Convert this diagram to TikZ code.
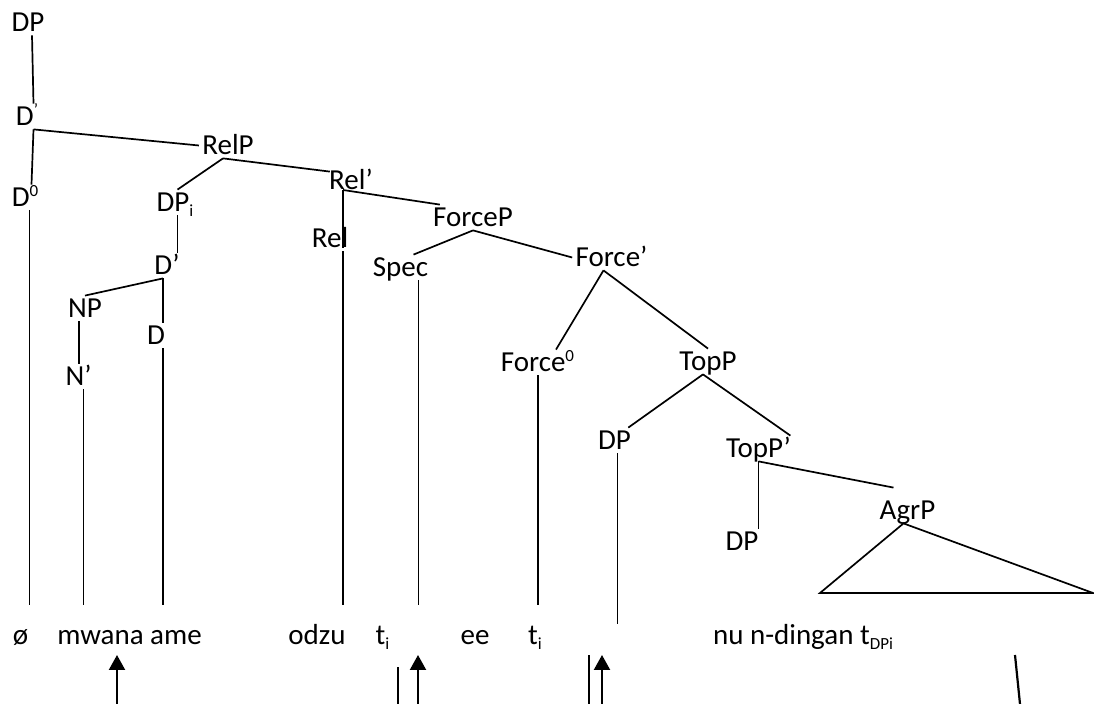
\documentclass[tikz,border=0pt]{standalone}
\usepackage{fontspec}
\setmainfont{Carlito}
\usetikzlibrary{arrows.meta}
\newcommand{\supsm}[1]{\textsuperscript{\fontsize{8.5}{9}\selectfont #1}}
\newcommand{\subsm}[1]{\textsubscript{\fontsize{8.5}{9}\selectfont #1}}

\begin{document}
\begin{tikzpicture}[x=0.5pt, y=-0.5pt, >={Triangle[width=8pt,length=7.5pt]},
  every node/.style={font=\fontsize{14.5}{17}\selectfont},
  cat/.style={anchor=base, inner sep=1.5pt, text height=9.5pt, text depth=0pt},
  word/.style={anchor=base, inner sep=0pt},
  br/.style={line width=0.85pt},
  mv/.style={line width=1.1pt}]
  \useasboundingbox (0,0) rectangle (1094,704);
  \coordinate (leaf) at (0,605);
  \coordinate (leafC) at (0,624);
  % DP shell and relative clause
  \node[cat] (dp) at (28,32) {DP};
  \node[cat] (dbarA) at (27.5,126) {D\supsm{’}};
  \node[cat] (dzero) at (25.5,207) {D\supsm{0}};
  \node[cat] (relp) at (228,155) {RelP};
  \node[cat] (dpi) at (175.5,212) {DP\subsm{i}};
  \node[cat] (relbar) at (351,190) {Rel’};
  \node[cat] (rel) at (330,248) {Rel};
  \draw[br] ([xshift=2pt]dp.south) -- ([xshift=3pt]dbarA.north);
  \draw[br] ([xshift=3pt]dbarA.south) -- (relp.west);
  \draw[br] ([xshift=3pt]dbarA.south) -- ([xshift=3pt]dzero.north);
  \draw[br] ([xshift=-2.5pt]relp.south) -- ([xshift=1pt]dpi.north);
  \draw[br] ([xshift=-2.5pt]relp.south) -- ([shift={(2pt,-2pt)}]relbar.north west);
  \draw[br] ([xshift=-4pt]relbar.base) -- ([xshift=-4pt]relbar.base |- rel.base);
  % relativised DP
  \node[cat] (dbarB) at (167,275) {D’};
  \node[cat] (np) at (85,318) {NP};
  \node[cat] (dhead) at (156,345) {D};
  \node[cat] (nbar) at (78.5,386) {N’};
  \draw[br] ([xshift=1pt]dpi.south) -- ([xshift=1pt]dpi.south |- dbarB.north);
  \draw[br] ([xshift=-2pt]dbarB.south) -- (np.north);
  \draw[br] ([xshift=-2pt]dbarB.south) -- ([xshift=-2pt]dbarB.south |- dhead.north);
  \draw[br] ([xshift=-3pt]np.south) -- ([xshift=-3pt]np.south |- nbar.north);
  % ForceP
  \node[cat] (forcep) at (473,227) {ForceP};
  \node[cat] (spec) at (400.5,277) {Spec};
  \node[cat] (forcebar) at (611.5,267) {Force’};
  \node[cat] (forcezero) at (538,372) {Force\supsm{0}};
  \draw[br] ([xshift=-4pt]relbar.base) -- ([xshift=5pt]forcep.north west);
  \draw[br] (forcep.south) -- ([xshift=-9pt]spec.north east);
  \draw[br] (forcep.south) -- (forcebar.west);
  \draw[br] ([xshift=-4pt]forcebar.south) -- ([xshift=9pt]forcezero.north);
  % TopP and AgrP
  \node[cat] (topp) at (708,371) {TopP};
  \node[cat] (dpC) at (614.5,450) {DP};
  \node[cat] (toppbar) at (758.5,458) {TopP’};
  \node[cat] (dpD) at (742,551) {DP};
  \node[cat] (agrp) at (907.5,520) {AgrP};
  \draw[br] ([xshift=-4pt]forcebar.south) -- (topp.north);
  \draw[br] ([xshift=-2.5pt]topp.south) -- ([xshift=-3pt]dpC.north east);
  \draw[br] ([xshift=-2.5pt]topp.south) -- ([xshift=-2pt]toppbar.north east);
  \draw[br] (toppbar.south) -- (toppbar.south |- dpD.north);
  \draw[br] (toppbar.south) -- ([shift={(-7pt,5pt)}]agrp.north);
  \coordinate (triL) at (820,593);
  \coordinate (triR) at (1093,593);
  \draw[br, line join=miter] ([xshift=-2pt]agrp.south) -- (triL) -- (triR) -- cycle;
  % lines down to the string
  \draw[br] ([xshift=2pt]dzero.south) -- ([xshift=2pt]dzero.south |- leaf);
  \draw[br] ([xshift=2.5pt]nbar.south) -- ([xshift=2.5pt]nbar.south |- leaf);
  \draw[br] ([xshift=3.5pt]dhead.south) -- ([xshift=3.5pt]dhead.south |- leaf);
  \draw[br] ([xshift=6.5pt]rel.south) -- ([xshift=6.5pt]rel.south |- leaf);
  \draw[br] ([xshift=9pt]spec.south) -- ([xshift=9pt]spec.south |- leaf);
  \draw[br] (forcezero.south) -- (forcezero.south |- leaf);
  \draw[br] ([xshift=1.5pt]dpC.south) -- ([xshift=1.5pt]dpC.south |- leafC);
  % the string
  \node[word] (w1) at (20.5,645) {ø};
  \node[word] (w2) at (129.5,645) {mwana ame};
  \node[word] (w3) at (317,645) {odzu};
  \node[word] (w4) at (383,645) {t\subsm{i}};
  \node[word] (w5) at (475,645) {ee};
  \node[word] (w6) at (535.5,645) {t\subsm{i}};
  \node[word] (w7) at (803.5,645) {nu n-dingan t\subsm{DPi}};
  % movement arrows below
  \coordinate (a1) at (117,655);
  \coordinate (a2) at (418,655);
  \coordinate (a3) at (602,655);
  \coordinate (b2) at (398,667);
  \coordinate (b3) at (589,655);
  \coordinate (b4) at (1015,655);
  \coordinate (floor) at (0,704);
  \draw[mv,->] (a1 |- floor) -- (a1);
  \draw[mv,->] (a2 |- floor) -- (a2);
  \draw[mv,->] (a3 |- floor) -- (a3);
  \draw[mv] (b2 |- floor) -- (b2);
  \draw[mv] (b3 |- floor) -- (b3);
  \draw[mv] (1020,704) -- (b4);
\end{tikzpicture}
\end{document}
